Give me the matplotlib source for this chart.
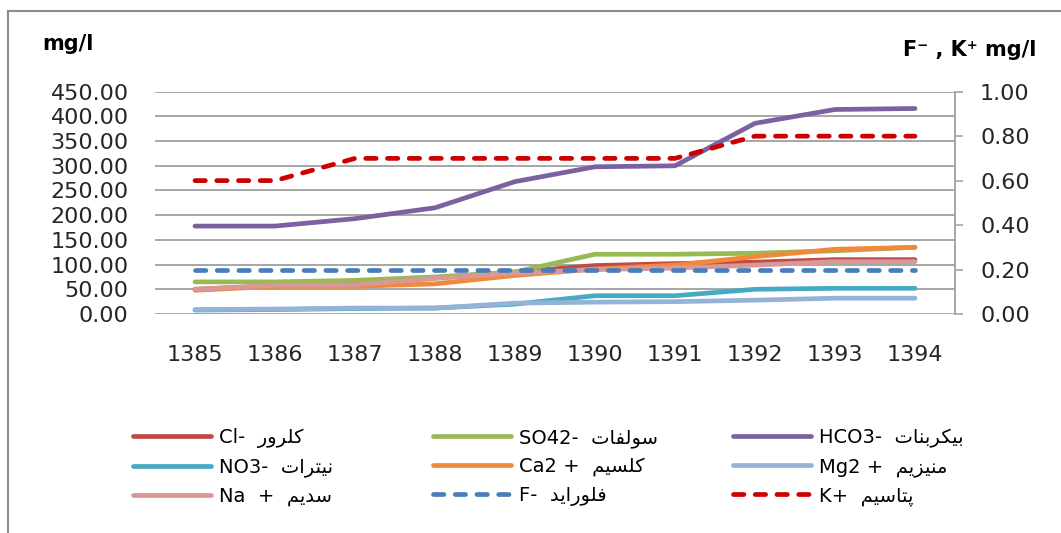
import matplotlib
matplotlib.use('Agg')
import matplotlib.pyplot as plt
from matplotlib.lines import Line2D

plt.rcParams['font.family'] = ['DejaVu Sans']

# Data
years = ['1385', '1386', '1387', '1388', '1389', '1390', '1391', '1392', '1393', '1394']
cl = [50, 57, 63, 73, 85, 98, 102, 105, 110, 110]
so4 = [65, 65, 68, 75, 85, 121, 121, 123, 128, 135]
hco3 = [178, 178, 193, 215, 268, 298, 300, 386, 414, 416]
no3 = [8, 9, 11, 12, 20, 37, 37, 50, 52, 52]
ca = [48, 56, 56, 61, 78, 91, 99, 116, 131, 135]
mg = [9, 10, 12, 12, 22, 24, 25, 28, 32, 32]
na = [50, 58, 59, 72, 83, 90, 93, 99, 106, 106]
# right axis (F-, K+)
fl = [0.2, 0.2, 0.2, 0.2, 0.2, 0.2, 0.2, 0.2, 0.2, 0.2]
k = [0.6, 0.6, 0.7, 0.7, 0.7, 0.7, 0.7, 0.8, 0.8, 0.8]

left_ticks = [0, 50, 100, 150, 200, 250, 300, 350, 400, 450]
right_ticks = [0, 0.2, 0.4, 0.6, 0.8, 1.0]

# legend labels: formula + persian name
formulas = ['Cl-', 'SO42-', 'HCO3-', 'NO3-', 'Ca2 +', 'Mg2 +', 'Na  +', 'F-', 'K+']
names = ['کلرور', 'سولفات', 'بیکربنات', 'نیترات', 'کلسیم', 'منیزیم', 'سدیم', 'فلوراید', 'پتاسیم']

# matplotlib does no arabic shaping, so pick the joined glyph forms by hand
# (isolated, final, initial, medial)
FORMS = {
    'ا': (0xFE8D, 0xFE8E, None, None),
    'ب': (0xFE8F, 0xFE90, 0xFE91, 0xFE92),
    'پ': (0xFB56, 0xFB57, 0xFB58, 0xFB59),
    'ت': (0xFE95, 0xFE96, 0xFE97, 0xFE98),
    'د': (0xFEA9, 0xFEAA, None, None),
    'ر': (0xFEAD, 0xFEAE, None, None),
    'ز': (0xFEAF, 0xFEB0, None, None),
    'س': (0xFEB1, 0xFEB2, 0xFEB3, 0xFEB4),
    'ف': (0xFED1, 0xFED2, 0xFED3, 0xFED4),
    'ک': (0xFB8E, 0xFB8F, 0xFB90, 0xFB91),
    'ل': (0xFEDD, 0xFEDE, 0xFEDF, 0xFEE0),
    'م': (0xFEE1, 0xFEE2, 0xFEE3, 0xFEE4),
    'ن': (0xFEE5, 0xFEE6, 0xFEE7, 0xFEE8),
    'و': (0xFEED, 0xFEEE, None, None),
    'ی': (0xFBFC, 0xFBFD, 0xFBFE, 0xFBFF),
}


def shape(word):
    out = []
    for i, ch in enumerate(word):
        iso, fin, ini, med = FORMS[ch]
        prev_joins = i > 0 and FORMS[word[i - 1]][2] is not None
        next_joins = i < len(word) - 1 and ini is not None
        if prev_joins and next_joins:
            c = med
        elif prev_joins:
            c = fin
        elif next_joins:
            c = ini
        else:
            c = iso
        out.append(chr(c))
    return ''.join(reversed(out))


labels = [f + '  ' + shape(n) for f, n in zip(formulas, names)]

colors = ['#BE4B48', '#98B954', '#7D60A0', '#46AAC5', '#F08A3A', '#95B3D7', '#D99795', '#4A7EBB', '#CC0000']

fig = plt.figure(figsize=(10.61, 5.33), dpi=100)
ax = fig.add_axes([155 / 1061, 1 - 314 / 533, 800 / 1061, 222.3 / 533])
ax2 = ax.twinx()

x = list(range(len(years)))
lw = 3.4
handles = []
for vals, c, lab in zip([cl, so4, hco3, no3, ca, mg, na], colors[:7], labels[:7]):
    h, = ax.plot(x, vals, color=c, lw=lw, solid_capstyle='round', label=lab)
    handles.append(h)
for vals, c, lab in zip([fl, k], colors[7:], labels[7:]):
    h, = ax2.plot(x, vals, color=c, lw=lw, dashes=(2.2, 2.4), dash_capstyle='round', label=lab)
    handles.append(h)

# left axis
ax.set_xlim(-0.5, len(years) - 0.5)
ax.set_ylim(0, 450)
ax.set_yticks(left_ticks)
ax.set_yticklabels(['%.2f' % v for v in left_ticks])
ax.set_xticks(x)
ax.set_xticklabels(years)
ax.tick_params(axis='y', length=0, pad=19, labelsize=16, colors='#262626')
ax.tick_params(axis='x', length=0, pad=22, labelsize=16, colors='#262626')
ax.grid(axis='y', color='#A6A6A6', lw=1.4)
ax.set_axisbelow(True)
for s in ['left', 'top', 'bottom', 'right']:
    ax.spines[s].set_visible(False)

# right axis
ax2.set_ylim(0, 1)
ax2.set_yticks(right_ticks)
ax2.set_yticklabels(['%.2f' % v for v in right_ticks])
ax2.tick_params(axis='y', direction='out', length=6, width=1.2, color='#A6A6A6',
                pad=12, labelsize=16, labelcolor='#262626')
for s in ['left', 'top', 'bottom']:
    ax2.spines[s].set_visible(False)
ax2.spines['right'].set_color('#A6A6A6')
ax2.spines['right'].set_linewidth(1.4)

# axis titles
fig.text(42 / 1061, 1 - 44 / 533, 'mg/l', fontsize=15, fontweight='bold', va='center', ha='left')
fig.text(1036 / 1061, 1 - 50 / 533, 'F⁻ , K⁺ mg/l', fontsize=15, fontweight='bold', va='center', ha='right')

# legend, three columns filled row by row
col_x = [133, 433, 733]
for j in range(3):
    col = handles[j::3]
    fig.legend(handles=col, labels=[h.get_label() for h in col], loc='upper left',
               bbox_to_anchor=(col_x[j] / 1061, 1 - 428 / 533), frameon=False,
               fontsize=14, handlelength=4.0, handletextpad=0.4, borderpad=0,
               borderaxespad=0, labelspacing=0.48)

# chart border (left and top edges visible)
fig.add_artist(Line2D([7.5 / 1061, 7.5 / 1061], [0, 1 - 11 / 533], color='#8C8C8C', lw=1.5))
fig.add_artist(Line2D([7.5 / 1061, 1], [1 - 11 / 533, 1 - 11 / 533], color='#8C8C8C', lw=1.5))

fig.savefig('out.png', dpi=100)
